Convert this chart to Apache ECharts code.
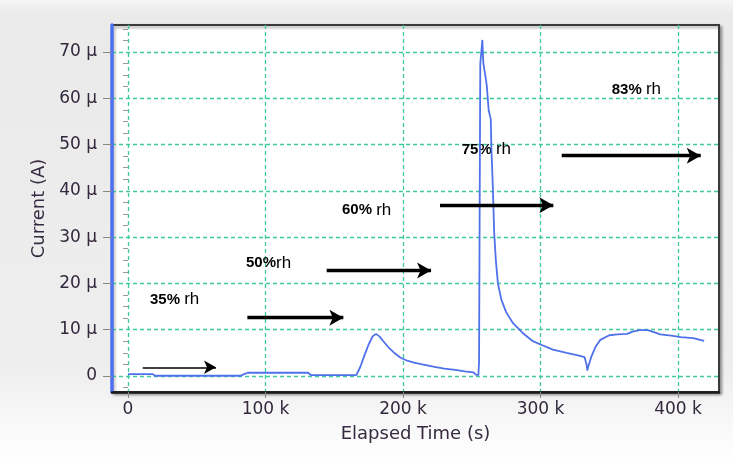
<!DOCTYPE html>
<html>
<head>
<meta charset="utf-8">
<style>
  html, body { margin: 0; padding: 0; }
  #chart { width: 733px; height: 461px; }
</style>
<script src="https://cdn.jsdelivr.net/npm/echarts@6/dist/echarts.min.js"></script>
</head>
<body>
<div id="chart"></div>
<script>
// Elapsed time (s) and measured current (µA)
const timeS = [
  0, 18000, 19500, 82000, 84000, 87000, 131000, 133000, 166000, 169000,
  172000, 175000, 178000, 180400, 183000, 186000, 190000, 194000, 198000, 203000,
  208000, 214000, 222000, 230000, 238000, 245000, 251000, 253000, 254800, 255300,
  255800, 256200, 257700, 258400, 259600, 260900, 262300, 263800, 264300, 265300,
  266300, 267500, 269000, 271500, 275000, 280000, 287000, 294000, 300000, 309000,
  319000, 328000, 332000, 333500, 334000, 335000, 337000, 340000, 343500, 350000,
  356000, 363000, 367000, 372000, 378000, 383000, 387000, 395000, 402000, 411000,
  419000
];
const currentMicroA = [
  0.4, 0.4, 0.05, 0.05, 0.35, 0.7, 0.7, 0.2, 0.2, 2.0,
  4.5, 6.8, 8.6, 9.1, 8.5, 7.4, 6.0, 4.9, 4.0, 3.3,
  2.9, 2.5, 2.0, 1.6, 1.3, 1.0, 0.8, 0.3, 0.2, 3.0,
  40.0, 67.5, 72.6, 67.6, 65.4, 62.8, 57.4, 55.5, 49.0, 41.0,
  31.0, 25.0, 20.0, 16.5, 13.8, 11.4, 9.3, 7.6, 6.8, 5.7,
  5.0, 4.4, 4.1, 2.5, 1.2, 2.3, 4.2, 6.3, 7.8, 8.8,
  9.0, 9.1, 9.6, 9.9, 9.9, 9.4, 9.0, 8.7, 8.4, 8.2,
  7.6
];

// Axis ticks
const xTickValues = [0, 100000, 200000, 300000, 400000];
const yTickValues = [0, 10, 20, 30, 40, 50, 60, 70];
const yMinorTickValues = [-2.5, 2.5, 5, 7.5, 12.5, 15, 17.5, 22.5, 25, 27.5, 32.5, 35, 37.5,
  42.5, 45, 47.5, 52.5, 55, 57.5, 62.5, 65, 67.5, 72.5, 75];

// Humidity step annotations
const stepLabels = ['35% rh', '50%rh', '60% rh', '75% rh', '83% rh'];
const stepLabelTimes = [16000, 85800, 155600, 242700, 351800];
const stepLabelLevels = [16.5, 24.4, 35.9, 48.9, 61.9];

// Arrows marking each humidity interval
const arrowStartTimes = [10700, 86800, 144500, 226900, 315400];
const arrowEndTimes = [64000, 156600, 220400, 309300, 416500];
const arrowLevels = [1.88, 12.6, 22.8, 36.9, 47.6];

const FONT = 'DejaVu Sans';
const gridLine = { color: '#3fca9b', type: [4, 3], width: 1.3 };

const seriesData = timeS.map((t, i) => [t, currentMicroA[i]]);

const arrowLines = arrowStartTimes.map((t0, i) => {
  const thin = i === 0;
  return [
    {
      coord: [t0, arrowLevels[i]],
      symbol: 'none',
      lineStyle: { width: thin ? 1.6 : 3.4, color: '#000', type: 'solid' }
    },
    {
      coord: [arrowEndTimes[i], arrowLevels[i]],
      symbol: 'arrow',
      symbolSize: thin ? [10, 12] : [12, 14]
    }
  ];
});

const labelData = stepLabels.map((s, i) => [stepLabelTimes[i], stepLabelLevels[i], s]);

function richStep(text) {
  const m = text.match(/^(\d+%)(\s?)(rh)$/);
  return '{p|' + m[1] + '}' + (m[2] ? '{s| }' : '') + '{r|' + m[3] + '}';
}

const chart = echarts.init(document.getElementById('chart'), null, { renderer: 'canvas' });

chart.setOption({
  animation: false,
  backgroundColor: {
    type: 'linear', x: 0, y: 0, x2: 0, y2: 1,
    colorStops: [
      { offset: 0, color: '#f6f6f6' },
      { offset: 0.03, color: '#eaeaea' },
      { offset: 0.8, color: '#eeeeee' },
      { offset: 1, color: '#ffffff' }
    ]
  },
  grid: {
    left: 112, right: 14, top: 25, bottom: 69,
    show: true,
    backgroundColor: '#ffffff',
    borderColor: '#3a3a3a',
    borderWidth: 2,
    shadowColor: 'rgba(0,0,0,0.35)',
    shadowBlur: 3,
    shadowOffsetX: 2,
    shadowOffsetY: 2
  },
  xAxis: {
    type: 'value',
    min: -11640,
    max: 429800,
    splitNumber: 4,
    name: 'Elapsed Time (s)',
    nameLocation: 'middle',
    nameGap: 33,
    nameTextStyle: { fontFamily: FONT, fontSize: 18, color: '#352a40' },
    axisLine: { show: true, onZero: false, lineStyle: { color: '#1a1a1a', width: 2.5 } },
    axisTick: { show: true, customValues: xTickValues, length: 6, lineStyle: { color: '#888' } },
    axisLabel: {
      customValues: xTickValues,
      margin: 9,
      fontFamily: FONT, fontSize: 17, color: '#33283d',
      formatter: v => (v === 0 ? '0' : (v / 1000) + ' k')
    },
    splitLine: { show: true, lineStyle: gridLine }
  },
  yAxis: [
    {
      type: 'value',
      min: -3.46,
      max: 75.83,
      splitNumber: 8,
      name: 'Current (A)',
      nameLocation: 'middle',
      nameGap: 64,
      nameTextStyle: { fontFamily: FONT, fontSize: 18, color: '#352a40' },
      axisLine: { show: true, onZero: false, lineStyle: { color: '#4d6ff0', width: 3.5 } },
      axisTick: { show: true, customValues: yTickValues, length: 9, lineStyle: { color: '#888' } },
      axisLabel: {
        customValues: yTickValues,
        margin: 15,
        fontFamily: FONT, fontSize: 17, color: '#33283d',
        formatter: v => (v === 0 ? '0' : v + ' μ')
      },
      splitLine: { show: true, lineStyle: gridLine }
    },
    {
      type: 'value',
      min: -3.46,
      max: 75.83,
      position: 'left',
      axisLine: { show: false },
      axisTick: { show: true, customValues: yMinorTickValues, length: 5, lineStyle: { color: '#999' } },
      axisLabel: { show: false },
      splitLine: { show: false }
    }
  ],
  series: [
    {
      type: 'line',
      data: seriesData,
      showSymbol: false,
      symbol: 'none',
      lineStyle: { color: '#4f72ea', width: 1.8 },
      silent: true,
      markLine: {
        silent: true,
        animation: false,
        label: { show: false },
        emphasis: { disabled: true },
        data: arrowLines
      }
    },
    {
      type: 'scatter',
      data: labelData,
      symbolSize: 0,
      silent: true,
      itemStyle: { opacity: 1, color: '#000' },
      label: {
        show: true,
        position: 'right',
        distance: 0,
        color: '#000',
        opacity: 1,
        formatter: p => richStep(p.data[2]),
        rich: {
          p: { fontFamily: 'Liberation Sans', fontSize: 15, fontWeight: 'bold', color: '#000' },
          s: { fontFamily: 'Liberation Sans', fontSize: 15, color: '#000' },
          r: { fontFamily: 'Liberation Sans', fontSize: 17, color: '#000' }
        }
      }
    }
  ]
});
</script>
</body>
</html>
